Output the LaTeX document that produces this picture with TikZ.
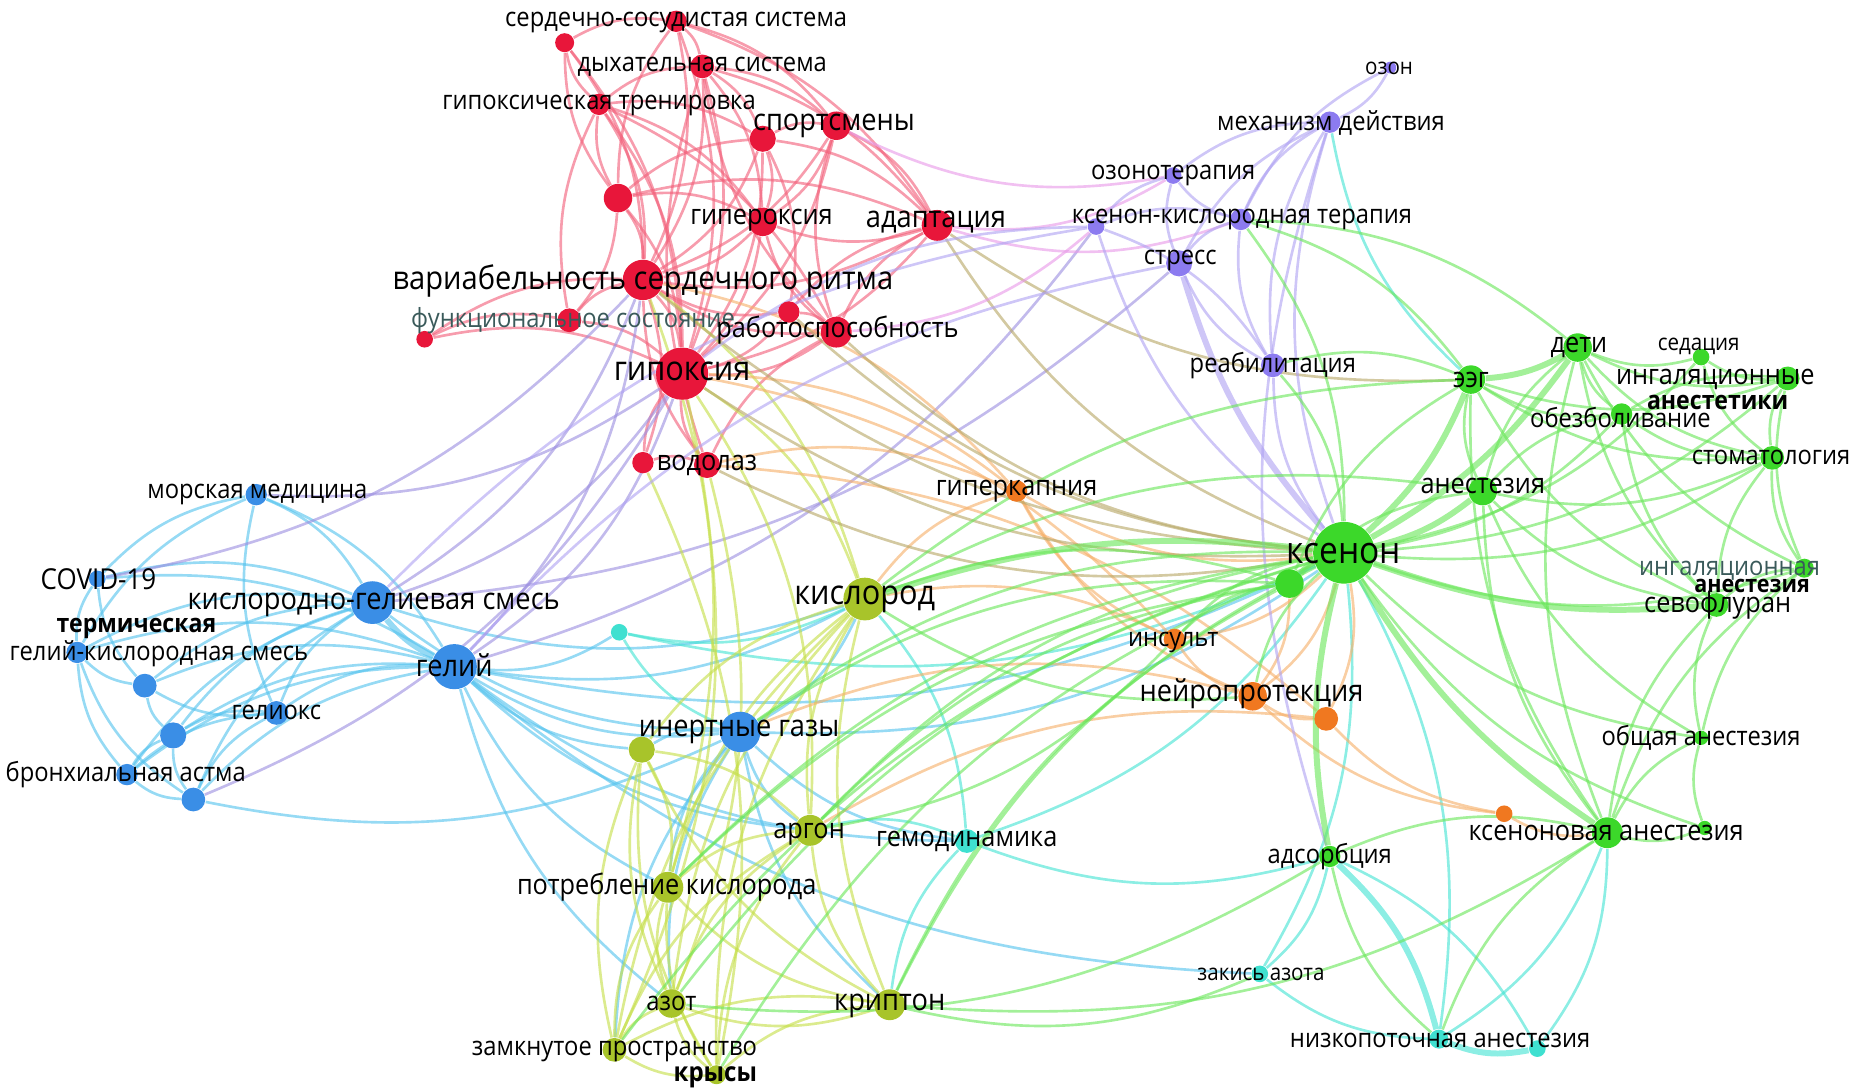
\documentclass[tikz,border=0pt]{standalone}
\usepackage{fontspec}
\setmainfont{Open Sans}[FakeStretch=0.9]
\definecolor{kwred}{HTML}{E8163A}
\definecolor{kwviolet}{HTML}{8C7BF0}
\definecolor{kwblue}{HTML}{3A8EE6}
\definecolor{kwteal}{HTML}{3FE0D0}
\definecolor{kwolive}{HTML}{A8C42A}
\definecolor{kworange}{HTML}{F07820}
\definecolor{kwgreen}{HTML}{3CD82A}
\definecolor{lkred}{HTML}{F2607A}
\definecolor{lkviolet}{HTML}{B0A3F2}
\definecolor{lkblue}{HTML}{55C3EE}
\definecolor{lkteal}{HTML}{45E3D3}
\definecolor{lkolive}{HTML}{C5DE48}
\definecolor{lkorange}{HTML}{F6B06A}
\definecolor{lkgreen}{HTML}{6AE65A}
\definecolor{lkbrown}{HTML}{B8A868}
\definecolor{lkpink}{HTML}{E89AE8}
\definecolor{lkmix}{HTML}{9C8FE0}
\definecolor{greytext}{HTML}{3A5A5A}
\pgfdeclarelayer{edges}
\pgfsetlayers{edges,main}
\tikzset{
	kw/.style={circle, inner sep=0pt, draw=none},
	sz/.style={minimum size=#1*0.675pt},
	red kw/.style={kw, fill=kwred},
	violet kw/.style={kw, fill=kwviolet},
	blue kw/.style={kw, fill=kwblue},
	teal kw/.style={kw, fill=kwteal},
	olive kw/.style={kw, fill=kwolive},
	orange kw/.style={kw, fill=kworange},
	green kw/.style={kw, fill=kwgreen},
	lbl/.style={inner sep=0pt, text=black},
	fa/.style={font=\fontsize{6.5}{7}\selectfont},
	fb/.style={font=\fontsize{7.5}{8}\selectfont},
	fc/.style={font=\fontsize{8}{9}\selectfont},
	fd/.style={font=\fontsize{8.6}{9}\selectfont},
	fe/.style={font=\fontsize{9.7}{10}\selectfont},
	ff/.style={font=\fontsize{10.6}{11}\selectfont},
	link/.style={line width=0.75pt, draw opacity=0.62},
	heavy/.style={line width=1.7pt},
	redlink/.style={link, draw=lkred},
	violetlink/.style={link, draw=lkviolet},
	bluelink/.style={link, draw=lkblue},
	teallink/.style={link, draw=lkteal},
	olivelink/.style={link, draw=lkolive},
	orangelink/.style={link, draw=lkorange},
	greenlink/.style={link, draw=lkgreen},
	brownlink/.style={link, draw=lkbrown},
	pinklink/.style={link, draw=lkpink},
	mixlink/.style={link, draw=lkmix}
}
\begin{document}
\begin{tikzpicture}[x=0.011862cm, y=-0.011862cm]
\useasboundingbox (0,0) rectangle (1568,919);
% red cluster
\node[red kw, sz=9] (ssc) at (570,18) {};
\node[red kw, sz=8] (rdotA) at (476,36) {};
\node[red kw, sz=10] (dyh) at (592,56) {};
\node[red kw, sz=9] (gtr) at (505,88) {};
\node[red kw, sz=11] (sportB) at (643,117) {};
\node[red kw, sz=12] (sport) at (705,106) {};
\node[red kw, sz=12] (rdotB) at (521,167) {};
\node[red kw, sz=12] (giperoks) at (643,187) {};
\node[red kw, sz=13] (adapt) at (790,190) {};
\node[red kw, sz=17] (vsr) at (542,236) {};
\node[red kw, sz=9] (rdotC) at (665,263) {};
\node[red kw, sz=10] (funk) at (480,270) {};
\node[red kw, sz=7] (rdotD) at (358,286) {};
\node[red kw, sz=13] (rabot) at (705,280) {};
\node[red kw, sz=22] (gipoks) at (575,315) {};
\node[red kw, sz=11] (vodol) at (596,392) {};
\node[red kw, sz=9] (rdotE) at (542,390) {};
% violet cluster
\node[violet kw, sz=5] (ozon) at (1172,57) {};
\node[violet kw, sz=9] (mech) at (1121,103) {};
\node[violet kw, sz=7] (ozonter) at (989,148) {};
\node[violet kw, sz=9] (ksterap) at (1046,185) {};
\node[violet kw, sz=7] (pdotA) at (924,191) {};
\node[violet kw, sz=11] (stress) at (994,222) {};
\node[violet kw, sz=10] (reab) at (1073,308) {};
% blue cluster
\node[blue kw, sz=9] (morsk) at (216,417) {};
\node[blue kw, sz=7] (covid) at (82,488) {};
\node[blue kw, sz=18] (kgsmes) at (314,508) {};
\node[blue kw, sz=9] (term) at (65,550) {};
\node[blue kw, sz=10] (bdotA) at (122,578) {};
\node[blue kw, sz=19] (gelij) at (383,562) {};
\node[blue kw, sz=10] (geliox) at (233,601) {};
\node[blue kw, sz=11] (bdotB) at (146,620) {};
\node[blue kw, sz=9] (astma) at (107,653) {};
\node[blue kw, sz=10] (bdotC) at (163,674) {};
\node[blue kw, sz=17] (inert) at (624,617) {};
% teal cluster
\node[teal kw, sz=7] (tdotA) at (522,533) {};
\node[teal kw, sz=10] (gemod) at (815,709) {};
\node[teal kw, sz=7] (zakis) at (1062,821) {};
\node[teal kw, sz=8] (nizko) at (1213,876) {};
\node[teal kw, sz=7] (tdotB) at (1296,884) {};
% olive cluster
\node[olive kw, sz=18] (kislor) at (729,505) {};
\node[olive kw, sz=11] (ydotA) at (541,632) {};
\node[olive kw, sz=13] (argon) at (683,700) {};
\node[olive kw, sz=13] (potreb) at (563,748) {};
\node[olive kw, sz=12] (azot) at (566,846) {};
\node[olive kw, sz=13] (kripton) at (750,847) {};
\node[olive kw, sz=10] (zamkn) at (518,885) {};
\node[olive kw, sz=8] (krysy) at (604,906) {};
% orange cluster
\node[orange kw, sz=9] (giperk) at (857,414) {};
\node[orange kw, sz=9] (insult) at (990,539) {};
\node[orange kw, sz=12] (nejro) at (1056,587) {};
\node[orange kw, sz=10] (odotA) at (1118,606) {};
\node[orange kw, sz=7] (odotB) at (1268,686) {};
% green cluster
\node[green kw, sz=26] (ksenon) at (1133,466) {};
\node[green kw, sz=12] (gdotA) at (1087,492) {};
\node[green kw, sz=12] (eeg) at (1240,320) {};
\node[green kw, sz=12] (deti) at (1330,293) {};
\node[green kw, sz=7] (sedac) at (1434,301) {};
\node[green kw, sz=10] (ingan) at (1507,319) {};
\node[green kw, sz=9] (obezb) at (1367,349) {};
\node[green kw, sz=10] (stomat) at (1494,386) {};
\node[green kw, sz=12] (anest) at (1250,414) {};
\node[green kw, sz=8] (ingan2) at (1521,479) {};
\node[green kw, sz=10] (sevofl) at (1447,510) {};
\node[green kw, sz=6] (obshch) at (1434,622) {};
\node[green kw, sz=13] (xeanest) at (1355,702) {};
\node[green kw, sz=6] (gdotB) at (1437,698) {};
\node[green kw, sz=9] (adsorb) at (1121,722) {};

\begin{pgfonlayer}{edges}
\foreach \a/\b in {gipoks/vsr, gipoks/rabot, gipoks/giperoks, gipoks/adapt, gipoks/sport, gipoks/sportB, gipoks/gtr, gipoks/dyh, gipoks/ssc, gipoks/rdotA, gipoks/rdotB, gipoks/rdotC, gipoks/funk, gipoks/rdotD, gipoks/vodol, gipoks/rdotE, vsr/sport, vsr/sportB, vsr/dyh, vsr/ssc, vsr/giperoks, vsr/adapt, vsr/rabot, vsr/funk, vsr/rdotD, vsr/rdotB, vsr/gtr, vsr/rdotA, vsr/rdotC, vsr/vodol, giperoks/sport, giperoks/sportB, giperoks/adapt, giperoks/rabot, giperoks/dyh, giperoks/rdotB, giperoks/gtr, adapt/sport, adapt/sportB, adapt/rabot, adapt/dyh, adapt/ssc, adapt/rdotB, adapt/rdotC, sport/sportB, sport/dyh, sport/ssc, sport/rabot, sportB/dyh, sportB/gtr, sportB/rdotB, dyh/ssc, dyh/gtr, dyh/rabot, ssc/rdotA, rdotA/gtr, rdotA/rdotB, gtr/rdotB, gtr/funk, rabot/rdotC, rdotC/sportB, rabot/vodol, vodol/rdotE, rdotE/vsr, funk/rdotD, funk/rdotB, rabot/gtr, ssc/rdotB, dyh/vodol}
	\draw[redlink] (\a) to[bend right=18] (\b);
\foreach \a/\b in {kgsmes/morsk, kgsmes/covid, kgsmes/term, kgsmes/bdotA, kgsmes/geliox, kgsmes/bdotB, kgsmes/astma, kgsmes/bdotC, gelij/morsk, gelij/covid, gelij/term, gelij/bdotA, gelij/geliox, gelij/bdotB, gelij/astma, gelij/bdotC, gelij/inert, gelij/tdotA, morsk/covid, morsk/geliox, morsk/term, covid/term, covid/bdotA, term/bdotA, term/astma, term/bdotC, bdotA/bdotB, bdotA/geliox, bdotB/astma, bdotB/bdotC, astma/bdotC, geliox/bdotC, geliox/astma, geliox/bdotB, inert/argon, inert/kripton, inert/azot, inert/potreb, inert/ydotA, inert/zamkn, inert/kislor, inert/gemod, gelij/kislor, gelij/argon, gelij/potreb, gelij/azot, gelij/gemod, gelij/ydotA, kgsmes/kislor, kgsmes/inert, gelij/ksenon, inert/ksenon, gelij/zakis, bdotC/inert}
	\draw[bluelink] (\a) to[bend right=18] (\b);
\draw[bluelink, heavy] (kgsmes) to[bend right=12] (gelij);
\foreach \a/\b in {kgsmes/gipoks, gelij/gipoks, gelij/vsr, kgsmes/vsr, gelij/pdotA, kgsmes/stress, morsk/gipoks, covid/vsr, bdotC/gipoks}
	\draw[mixlink] (\a) to[bend right=18] (\b);
\foreach \a/\b in {tdotA/kislor, tdotA/inert, tdotA/ksenon, gemod/ksenon, gemod/argon, gemod/kislor, gemod/adsorb, gemod/kripton, zakis/adsorb, zakis/nizko, zakis/ksenon, nizko/xeanest, tdotB/adsorb, tdotB/xeanest, nizko/ksenon, mech/eeg}
	\draw[teallink] (\a) to[bend right=18] (\b);
\foreach \a/\b in {nizko/adsorb, nizko/tdotB}
	\draw[teallink, heavy] (\a) to[bend right=16] (\b);
\foreach \a/\b in {kislor/argon, kislor/potreb, kislor/azot, kislor/kripton, kislor/zamkn, kislor/krysy, kislor/ydotA, argon/potreb, argon/azot, argon/kripton, argon/zamkn, argon/krysy, argon/ydotA, potreb/azot, potreb/kripton, potreb/zamkn, potreb/krysy, potreb/ydotA, azot/kripton, azot/zamkn, azot/krysy, kripton/zamkn, kripton/krysy, zamkn/krysy, ydotA/azot, ydotA/zamkn, ydotA/krysy, ydotA/kripton, kislor/gipoks, kislor/vsr, argon/gipoks, potreb/vsr, zamkn/gipoks, azot/vodol, krysy/rdotE}
	\draw[olivelink] (\a) to[bend right=18] (\b);
\foreach \a/\b in {giperk/gipoks, giperk/vsr, giperk/kislor, giperk/insult, giperk/nejro, giperk/ksenon, insult/nejro, insult/ksenon, insult/kislor, nejro/ksenon, nejro/odotA, nejro/odotB, odotA/odotB, odotA/ksenon, odotB/xeanest, nejro/inert, odotA/argon, insult/gipoks, odotA/vodol, giperk/vodol, nejro/gdotA}
	\draw[orangelink] (\a) to[bend right=18] (\b);
\foreach \a/\b in {adapt/ksenon, gipoks/ksenon, rabot/ksenon, vsr/ksenon, vodol/ksenon, adapt/eeg, rdotC/ksenon}
	\draw[brownlink] (\a) to[bend right=18] (\b);
\foreach \a/\b in {adapt/ozonter, adapt/ksterap, rabot/pdotA, sport/ozonter}
	\draw[pinklink] (\a) to[bend right=18] (\b);
\foreach \a/\b in {mech/ozon, mech/ozonter, mech/ksterap, mech/stress, mech/reab, mech/ksenon, ozon/ksterap, ozonter/ksterap, ozonter/pdotA, ozonter/stress, ksterap/stress, ksterap/pdotA, ksterap/reab, stress/reab, reab/ksenon, pdotA/gipoks, pdotA/kgsmes, stress/gelij, reab/pdotA, pdotA/ksenon, mech/adsorb}
	\draw[violetlink] (\a) to[bend right=18] (\b);
\draw[violetlink, heavy] (stress) to[bend right=12] (ksenon);
\foreach \a/\b in {ksenon/obezb, ksenon/stomat, ksenon/ingan, ksenon/sedac, ksenon/ingan2, ksenon/obshch, ksenon/gdotB, ksenon/inert, ksenon/argon, ksenon/kripton, ksenon/azot, ksenon/potreb, ksenon/insult, ksenon/nejro, ksenon/reab, ksenon/ksterap, ksenon/zamkn, ksenon/krysy, eeg/anest, eeg/obezb, eeg/ingan, eeg/stomat, eeg/sevofl, eeg/reab, eeg/ksterap, eeg/kislor, eeg/gdotA, eeg/xeanest, deti/sedac, deti/ingan, deti/obezb, deti/anest, deti/stomat, deti/sevofl, deti/ingan2, deti/ksterap, deti/xeanest, sedac/ingan, sedac/stomat, ingan/stomat, ingan/ingan2, ingan/obezb, obezb/stomat, obezb/anest, obezb/sevofl, anest/stomat, anest/sevofl, anest/xeanest, anest/obshch, anest/gdotA, anest/kislor, stomat/ingan2, stomat/sevofl, ingan2/sevofl, ingan2/obshch, sevofl/obshch, sevofl/xeanest, obshch/xeanest, obshch/gdotB, xeanest/gdotB, xeanest/adsorb, xeanest/nizko, adsorb/nizko, gdotA/kislor, gdotA/inert, gdotA/argon, gdotA/potreb, gdotA/kripton, gdotA/insult, kripton/zakis, kripton/xeanest, azot/adsorb, argon/insult, kislor/nejro, ingan2/xeanest}
	\draw[greenlink] (\a) to[bend right=18] (\b);
\foreach \a/\b in {ksenon/anest, ksenon/eeg, ksenon/deti, ksenon/sevofl, ksenon/xeanest, ksenon/adsorb, ksenon/gdotA, ksenon/kislor, eeg/deti}
	\draw[greenlink, heavy] (\a) to[bend right=12] (\b);
\end{pgfonlayer}

% labels
\node[lbl, fb] (ssc-t) at (570,19) {сердечно-сосудистая система};
\node[lbl, fb] (dyh-t) at (592,56) {дыхательная система};
\node[lbl, fb] (gtr-t) at (505,89) {гипоксическая тренировка};
\node[lbl, fd] (sport-t) at (703,106) {спортсмены};
\node[lbl, fc] (giperoks-t) at (642,186) {гипероксия};
\node[lbl, fd] (adapt-t) at (789,187) {адаптация};
\node[lbl, font=\fontsize{9.2}{10}\selectfont] (vsr-t) at (542,237) {вариабельность сердечного ритма};
\node[lbl, fb, text=greytext] (funk-t) at (483,270) {функциональное состояние};
\node[lbl, fc] (rabot-t) at (706,278) {работоспособность};
\node[lbl, fe] (gipoks-t) at (575,313) {гипоксия};
\node[lbl, fc] (vodol-t) at (596,392) {водолаз};
\node[lbl, fa] (ozon-t) at (1171,58) {озон};
\node[lbl, fb] (mech-t) at (1122,104) {механизм действия};
\node[lbl, fb] (ozonter-t) at (989,148) {озонотерапия};
\node[lbl, fb] (ksterap-t) at (1047,185) {ксенон-кислородная терапия};
\node[lbl, fb] (stress-t) at (995,220) {стресс};
\node[lbl, fb] (reab-t) at (1073,308) {реабилитация};
\node[lbl, fb] (morsk-t) at (217,417) {морская медицина};
\node[lbl, font=\fontsize{8.2}{9}\selectfont] (covid-t) at (83,488) {COVID-19};
\node[lbl, fd] (kgsmes-t) at (315,510) {кислородно-гелиевая смесь};
\node[lbl, font=\bfseries\fontsize{7.3}{8}\selectfont] (term-t) at (115,530) {термическая};
\node[lbl, fb] (term-t2) at (134,551) {гелий-кислородная смесь};
\node[lbl, fd] (gelij-t) at (383,561) {гелий};
\node[lbl, fb] (geliox-t) at (233,601) {гелиокс};
\node[lbl, fb] (astma-t) at (106,653) {бронхиальная астма};
\node[lbl, fd] (inert-t) at (623,617) {инертные газы};
\node[lbl, fc] (gemod-t) at (815,709) {гемодинамика};
\node[lbl, fa] (zakis-t) at (1063,821) {закись азота};
\node[lbl, fb] (nizko-t) at (1214,877) {низкопоточная анестезия};
\node[lbl, fe] (kislor-t) at (729,505) {кислород};
\node[lbl, fc] (argon-t) at (682,703) {аргон};
\node[lbl, fc] (potreb-t) at (562,748) {потребление кислорода};
\node[lbl, fb] (azot-t) at (566,846) {азот};
\node[lbl, fd] (kripton-t) at (750,848) {криптон};
\node[lbl, fb] (zamkn-t) at (518,886) {замкнутое пространство};
\node[lbl, font=\bfseries\fontsize{7.6}{8}\selectfont] (krysy-t) at (603,908) {крысы};
\node[lbl, fc] (giperk-t) at (857,414) {гиперкапния};
\node[lbl, fb] (insult-t) at (989,542) {инсульт};
\node[lbl, fd] (nejro-t) at (1055,585) {нейропротекция};
\node[lbl, ff] (ksenon-t) at (1133,467) {ксенон};
\node[lbl, fc] (eeg-t) at (1240,320) {ээг};
\node[lbl, fc] (deti-t) at (1331,293) {дети};
\node[lbl, fa] (sedac-t) at (1432,292) {седация};
\node[lbl, fc] (ingan-t) at (1446,320) {ингаляционные};
\node[lbl, font=\bfseries\fontsize{7.3}{8}\selectfont] (ingan-t2) at (1448,339) {анестетики};
\node[lbl, fb] (obezb-t) at (1366,352) {обезболивание};
\node[lbl, fb] (stomat-t) at (1493,386) {стоматология};
\node[lbl, fc] (anest-t) at (1250,410) {анестезия};
\node[lbl, fb, text=greytext] (ingan2-t) at (1458,481) {ингаляционная};
\node[lbl, font=\bfseries\fontsize{6.8}{8}\selectfont] (ingan2-t2) at (1477,494) {анестезия};
\node[lbl, fc] (sevofl-t) at (1448,510) {севофлуран};
\node[lbl, fb] (obshch-t) at (1434,622) {общая анестезия};
\node[lbl, fc] (xeanest-t) at (1354,702) {ксеноновая анестезия};
\node[lbl, fb] (adsorb-t) at (1121,722) {адсорбция};
\end{tikzpicture}
\end{document}
